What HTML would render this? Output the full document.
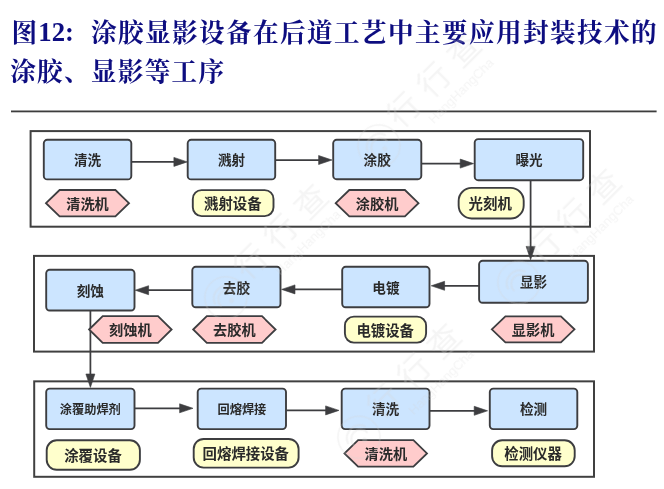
<!DOCTYPE html>
<html><head><meta charset="utf-8"><title>fig12</title>
<style>
html,body{margin:0;padding:0;background:#fff;font-family:"Liberation Sans",sans-serif;}
body{width:664px;height:489px;overflow:hidden;}
svg{display:block;}
</style></head><body>
<svg width="664" height="489" viewBox="0 0 664 489">
<defs></defs>
<filter id="soft" x="0" y="0" width="664" height="489" filterUnits="userSpaceOnUse"><feGaussianBlur stdDeviation="0.32"/></filter>
<rect width="664" height="489" fill="#ffffff"/>
<g filter="url(#soft)">
<g fill="#0c0c80" font-weight="bold" font-family="'Liberation Serif', 'Noto Serif CJK SC', serif">
<text x="11.4" y="41.5" font-size="25.6">图</text>
<text x="38.3" y="40.9" font-size="26.7">12:</text>
<text x="91" y="41.5" font-size="25.6" letter-spacing="1.4">涂胶显影设备在后道工艺中主要应用封装技术的</text>
<text x="10.2" y="81.3" font-size="25.6" letter-spacing="1.3">涂胶、显影等工序</text>
</g>
<rect x="11" y="110.5" width="645.6" height="1.8" fill="#3c3c3c"/>
<rect x="30.60" y="131.10" width="559.40" height="95.60" rx="0.00" fill="#ffffff" stroke="#414141" stroke-width="2.00"/>
<rect x="34.00" y="255.90" width="560.00" height="95.70" rx="0.00" fill="#ffffff" stroke="#414141" stroke-width="2.00"/>
<rect x="34.20" y="381.35" width="559.80" height="95.45" rx="0.00" fill="#ffffff" stroke="#414141" stroke-width="2.00"/>
<line x1="131.70" y1="161.90" x2="174.90" y2="161.90" stroke="#3d3e40" stroke-width="1.75"/><polygon points="187.30,161.90 173.90,166.40 173.90,157.40" fill="#3d3e40" stroke="#3d3e40" stroke-width="0.6" stroke-linejoin="miter"/>
<line x1="275.60" y1="160.00" x2="319.60" y2="160.00" stroke="#3d3e40" stroke-width="1.75"/><polygon points="332.00,160.00 318.60,164.50 318.60,155.50" fill="#3d3e40" stroke="#3d3e40" stroke-width="0.6" stroke-linejoin="miter"/>
<line x1="421.50" y1="163.60" x2="461.20" y2="163.60" stroke="#3d3e40" stroke-width="1.75"/><polygon points="473.60,163.60 460.20,168.10 460.20,159.10" fill="#3d3e40" stroke="#3d3e40" stroke-width="0.6" stroke-linejoin="miter"/>
<line x1="530.60" y1="180.60" x2="530.60" y2="247.40" stroke="#3d3e40" stroke-width="1.75"/><polygon points="530.60,259.80 526.10,246.40 535.10,246.40" fill="#3d3e40" stroke="#3d3e40" stroke-width="0.6" stroke-linejoin="miter"/>
<line x1="479.00" y1="285.80" x2="443.60" y2="285.80" stroke="#3d3e40" stroke-width="1.75"/><polygon points="431.20,285.80 444.60,281.30 444.60,290.30" fill="#3d3e40" stroke="#3d3e40" stroke-width="0.6" stroke-linejoin="miter"/>
<line x1="341.80" y1="289.40" x2="294.00" y2="289.40" stroke="#3d3e40" stroke-width="1.75"/><polygon points="281.60,289.40 295.00,284.90 295.00,293.90" fill="#3d3e40" stroke="#3d3e40" stroke-width="0.6" stroke-linejoin="miter"/>
<line x1="192.00" y1="290.20" x2="147.60" y2="290.20" stroke="#3d3e40" stroke-width="1.75"/><polygon points="135.20,290.20 148.60,285.70 148.60,294.70" fill="#3d3e40" stroke="#3d3e40" stroke-width="0.6" stroke-linejoin="miter"/>
<line x1="90.40" y1="309.80" x2="90.40" y2="375.00" stroke="#3d3e40" stroke-width="1.75"/><polygon points="90.40,387.40 85.90,374.00 94.90,374.00" fill="#3d3e40" stroke="#3d3e40" stroke-width="0.6" stroke-linejoin="miter"/>
<line x1="134.90" y1="408.30" x2="180.60" y2="408.30" stroke="#3d3e40" stroke-width="1.75"/><polygon points="193.00,408.30 179.60,412.80 179.60,403.80" fill="#3d3e40" stroke="#3d3e40" stroke-width="0.6" stroke-linejoin="miter"/>
<line x1="286.40" y1="410.40" x2="326.60" y2="410.40" stroke="#3d3e40" stroke-width="1.75"/><polygon points="339.00,410.40 325.60,414.90 325.60,405.90" fill="#3d3e40" stroke="#3d3e40" stroke-width="0.6" stroke-linejoin="miter"/>
<line x1="429.90" y1="410.80" x2="475.20" y2="410.80" stroke="#3d3e40" stroke-width="1.75"/><polygon points="487.60,410.80 474.20,415.30 474.20,406.30" fill="#3d3e40" stroke="#3d3e40" stroke-width="0.6" stroke-linejoin="miter"/>
<g fill="#2a2a2a" font-weight="bold" text-anchor="middle" font-family="'Liberation Sans', 'Noto Sans CJK SC', sans-serif">
<rect x="43.80" y="139.80" width="87.50" height="39.60" rx="3.50" fill="#cce5ff" stroke="#3d3e40" stroke-width="1.90"/>
<text x="87.5" y="165.2" font-size="13.6">清洗</text>
<rect x="187.70" y="139.80" width="87.50" height="39.60" rx="3.50" fill="#cce5ff" stroke="#3d3e40" stroke-width="1.90"/>
<text x="231.5" y="165.2" font-size="13.6">溅射</text>
<rect x="333.20" y="139.80" width="88.10" height="39.40" rx="3.50" fill="#cce5ff" stroke="#3d3e40" stroke-width="1.90"/>
<text x="377.2" y="165.1" font-size="13.6">涂胶</text>
<rect x="474.70" y="139.10" width="108.50" height="41.10" rx="3.50" fill="#cce5ff" stroke="#3d3e40" stroke-width="1.90"/>
<text x="529.0" y="165.2" font-size="13.6">曝光</text>
<rect x="46.20" y="269.80" width="88.30" height="40.70" rx="3.50" fill="#cce5ff" stroke="#3d3e40" stroke-width="1.90"/>
<text x="90.3" y="295.7" font-size="13.6">刻蚀</text>
<rect x="192.30" y="266.80" width="88.20" height="40.50" rx="3.50" fill="#cce5ff" stroke="#3d3e40" stroke-width="1.90"/>
<text x="236.4" y="292.6" font-size="13.6">去胶</text>
<rect x="342.20" y="266.80" width="87.30" height="40.50" rx="3.50" fill="#cce5ff" stroke="#3d3e40" stroke-width="1.90"/>
<text x="385.9" y="292.6" font-size="13.6">电镀</text>
<rect x="479.10" y="260.80" width="108.80" height="42.00" rx="3.50" fill="#cce5ff" stroke="#3d3e40" stroke-width="1.90"/>
<text x="533.5" y="287.4" font-size="13.6">显影</text>
<rect x="46.20" y="388.60" width="88.30" height="40.50" rx="3.50" fill="#cce5ff" stroke="#3d3e40" stroke-width="1.90"/>
<text x="90.3" y="413.9" font-size="12.2">涂覆助焊剂</text>
<rect x="197.70" y="388.60" width="88.30" height="40.50" rx="3.50" fill="#cce5ff" stroke="#3d3e40" stroke-width="1.90"/>
<text x="241.9" y="413.9" font-size="12.2">回熔焊接</text>
<rect x="341.70" y="388.60" width="87.80" height="40.50" rx="3.50" fill="#cce5ff" stroke="#3d3e40" stroke-width="1.90"/>
<text x="385.6" y="414.4" font-size="13.6">清洗</text>
<rect x="489.80" y="388.60" width="87.50" height="40.50" rx="3.50" fill="#cce5ff" stroke="#3d3e40" stroke-width="1.90"/>
<text x="533.5" y="414.4" font-size="13.6">检测</text>
<polygon points="46.00,203.15 59.60,190.00 115.40,190.00 129.00,203.15 115.40,216.30 59.60,216.30" fill="#ffcccc" stroke="#3d3e40" stroke-width="1.80" stroke-linejoin="miter"/>
<text x="87.5" y="209.0" font-size="14.2">清洗机</text>
<polygon points="335.70,203.15 349.30,190.00 404.90,190.00 418.50,203.15 404.90,216.30 349.30,216.30" fill="#ffcccc" stroke="#3d3e40" stroke-width="1.80" stroke-linejoin="miter"/>
<text x="377.1" y="209.0" font-size="14.2">涂胶机</text>
<polygon points="89.10,329.50 102.70,316.20 158.00,316.20 171.60,329.50 158.00,342.80 102.70,342.80" fill="#ffcccc" stroke="#3d3e40" stroke-width="1.80" stroke-linejoin="miter"/>
<text x="130.3" y="335.3" font-size="14.2">刻蚀机</text>
<polygon points="193.20,329.50 206.80,316.20 262.00,316.20 275.60,329.50 262.00,342.80 206.80,342.80" fill="#ffcccc" stroke="#3d3e40" stroke-width="1.80" stroke-linejoin="miter"/>
<text x="234.4" y="335.3" font-size="14.2">去胶机</text>
<polygon points="491.80,329.35 505.40,316.30 560.90,316.30 574.50,329.35 560.90,342.40 505.40,342.40" fill="#ffcccc" stroke="#3d3e40" stroke-width="1.80" stroke-linejoin="miter"/>
<text x="533.1" y="335.2" font-size="14.2">显影机</text>
<polygon points="344.50,453.40 358.10,440.10 413.40,440.10 427.00,453.40 413.40,466.70 358.10,466.70" fill="#ffcccc" stroke="#3d3e40" stroke-width="1.80" stroke-linejoin="miter"/>
<text x="385.8" y="459.2" font-size="14.2">清洗机</text>
<rect x="192.80" y="190.10" width="80.70" height="26.00" rx="8.80" fill="#ffffcc" stroke="#3d3e40" stroke-width="1.90"/>
<text x="232.8" y="209.0" font-size="14.4">溅射设备</text>
<rect x="458.65" y="187.90" width="65.05" height="30.60" rx="13.00" fill="#ffffcc" stroke="#3d3e40" stroke-width="1.90"/>
<text x="490.2" y="209.1" font-size="14.4">光刻机</text>
<rect x="344.90" y="316.60" width="81.20" height="26.00" rx="9.00" fill="#ffffcc" stroke="#3d3e40" stroke-width="1.90"/>
<text x="385.2" y="335.5" font-size="14.4">电镀设备</text>
<rect x="46.70" y="440.30" width="93.20" height="29.50" rx="10.00" fill="#ffffcc" stroke="#3d3e40" stroke-width="1.90"/>
<text x="93.0" y="460.9" font-size="14.4">涂覆设备</text>
<rect x="193.70" y="439.00" width="104.90" height="28.60" rx="10.00" fill="#ffffcc" stroke="#3d3e40" stroke-width="1.90"/>
<text x="245.8" y="459.2" font-size="14.4">回熔焊接设备</text>
<rect x="492.10" y="440.30" width="82.60" height="26.00" rx="10.00" fill="#ffffcc" stroke="#3d3e40" stroke-width="1.90"/>
<text x="533.1" y="459.2" font-size="14.4">检测仪器</text>
</g>
<g opacity="0.26" fill="#d6d6d6" font-family="'Liberation Sans', 'Noto Sans CJK SC', sans-serif">
<g transform="translate(376.5 139.2) rotate(-45)"><circle cx="-3" cy="6.5" r="21" fill="none" stroke="#d6d6d6" stroke-width="1.6"/><path d="M-11 6 A13 13 0 0 1 6 -11 M-5 8 A7 7 0 0 1 8 -5" fill="none" stroke="#d6d6d6" stroke-width="2.2" stroke-linecap="round" transform="translate(-3 6.5) rotate(45)"/><circle cx="-1" cy="12.5" r="2.5" stroke="none"/><text x="24" y="10.16" font-size="32" letter-spacing="10.5">行行查</text><text x="51" y="29.5" font-size="13">HangHangCha</text></g>
<g transform="translate(516.4 275.7) rotate(-45)"><circle cx="-3" cy="6.5" r="21" fill="none" stroke="#d6d6d6" stroke-width="1.6"/><path d="M-11 6 A13 13 0 0 1 6 -11 M-5 8 A7 7 0 0 1 8 -5" fill="none" stroke="#d6d6d6" stroke-width="2.2" stroke-linecap="round" transform="translate(-3 6.5) rotate(45)"/><circle cx="-1" cy="12.5" r="2.5" stroke="none"/><text x="24" y="10.16" font-size="32" letter-spacing="10.5">行行查</text><text x="51" y="29.5" font-size="13">HangHangCha</text></g>
<g transform="translate(223.4 291.0) rotate(-45)"><circle cx="-3" cy="6.5" r="21" fill="none" stroke="#d6d6d6" stroke-width="1.6"/><path d="M-11 6 A13 13 0 0 1 6 -11 M-5 8 A7 7 0 0 1 8 -5" fill="none" stroke="#d6d6d6" stroke-width="2.2" stroke-linecap="round" transform="translate(-3 6.5) rotate(45)"/><circle cx="-1" cy="12.5" r="2.5" stroke="none"/><text x="24" y="10.16" font-size="32" letter-spacing="10.5">行行查</text><text x="51" y="29.5" font-size="13">HangHangCha</text></g>
<g transform="translate(356.5 430.5) rotate(-45)"><circle cx="-3" cy="6.5" r="21" fill="none" stroke="#d6d6d6" stroke-width="1.6"/><path d="M-11 6 A13 13 0 0 1 6 -11 M-5 8 A7 7 0 0 1 8 -5" fill="none" stroke="#d6d6d6" stroke-width="2.2" stroke-linecap="round" transform="translate(-3 6.5) rotate(45)"/><circle cx="-1" cy="12.5" r="2.5" stroke="none"/><text x="24" y="10.16" font-size="32" letter-spacing="10.5">行行查</text><text x="51" y="29.5" font-size="13">HangHangCha</text></g>
</g>
</g>
</svg>
</body></html>
